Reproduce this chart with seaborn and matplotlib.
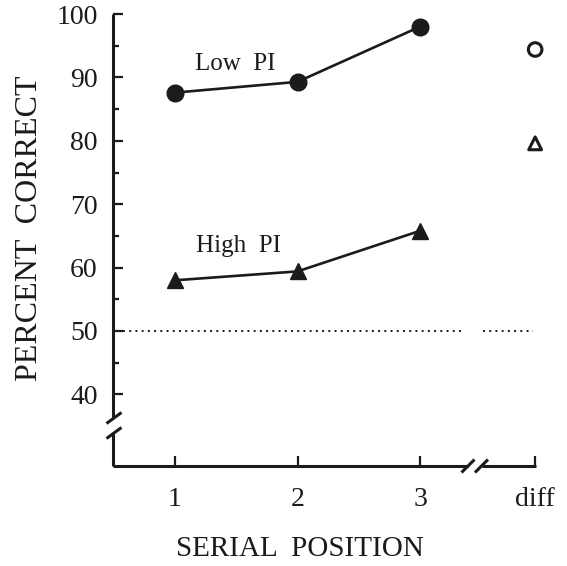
import matplotlib
matplotlib.use('Agg')
import matplotlib.pyplot as plt
import seaborn as sns
import pandas as pd

# ---- data ----
positions = [1, 2, 3]
low_pi = [87.6, 89.3, 98.0]
high_pi = [58.0, 59.4, 65.8]
diff_position = 3.94
diff_low = 94.4
diff_high = 79.6
x_tick_labels = ['1', '2', '3', 'diff']
y_major = [40, 50, 60, 70, 80, 90, 100]
y_minor = [45, 55, 65, 75, 85, 95]
chance = 50

sns.set_theme(style='ticks')
plt.rcParams['font.family'] = ['Liberation Serif', 'DejaVu Serif']
INK = '#1c1a1b'

W, H = 567, 566
fig = plt.figure(figsize=(W / 100, H / 100), dpi=100)
ax = fig.add_axes([113 / W, (H - 466) / H, (547 - 113) / W, (466 - 8) / H])

def px2x(px):
    return 1 + (px - 175) / 122.5

def px2y(py):
    return 50 - (py - 331) / 6.34

ax.set_xlim(px2x(113), px2x(547))
ax.set_ylim(px2y(466), px2y(8))

# series
sns.lineplot(x=positions, y=low_pi, ax=ax, color=INK, lw=1.9, marker='o',
             markersize=12, mec=INK, mew=1, legend=False)
sns.lineplot(x=positions, y=high_pi, ax=ax, color=INK, lw=1.9, marker='^',
             markersize=11.5, mec=INK, mew=1, legend=False)
sns.scatterplot(x=[diff_position], y=[diff_low], ax=ax, marker='o', s=95,
                facecolors='none', edgecolor=INK, linewidth=2.2)
sns.scatterplot(x=[diff_position], y=[diff_high], ax=ax, marker='^', s=85,
                facecolors='none', edgecolor=INK, linewidth=2.2)

# chance line
x0 = px2x(113)
ax.plot([x0 + 0.08, px2x(463)], [chance, chance], ls=(0, (1, 2.2)), lw=1.4, color=INK)
ax.plot([px2x(483), px2x(533)], [chance, chance], ls=(0, (1, 2.2)), lw=1.4, color=INK)

# axes lines with breaks
for s in ax.spines.values():
    s.set_visible(False)
alw = 2.2
kw = dict(color=INK, lw=alw, clip_on=False, solid_capstyle='butt')
ax.plot([x0, x0], [100, px2y(418)], **kw)
ax.plot([x0, x0], [px2y(433), px2y(466)], **kw)
for cy in (418, 433):
    ax.plot([px2x(106.5), px2x(121.5)], [px2y(cy + 5.5), px2y(cy - 5.5)], **kw)
yb = px2y(466)
ax.plot([x0, px2x(468)], [yb, yb], **kw)
ax.plot([px2x(481.5), diff_position + 0.008], [yb, yb], **kw)
for cx in (468, 481.5):
    ax.plot([px2x(cx - 6.5), px2x(cx + 6.5)], [px2y(466 + 6.5), px2y(466 - 6.5)], **kw)

# ticks
ax.set_yticks(y_major)
ax.set_yticks(y_minor, minor=True)
ax.set_yticklabels([str(v) for v in y_major])
ax.set_xticks(positions + [diff_position])
ax.set_xticklabels(x_tick_labels)
ax.tick_params(axis='y', which='major', direction='in', length=7.5, width=1.6,
               color=INK, labelsize=20, pad=11, labelcolor=INK)
ax.tick_params(axis='y', which='minor', direction='in', length=4.5, width=1.6, color=INK)
ax.tick_params(axis='x', which='major', direction='in', length=7.5, width=1.6,
               color=INK, labelsize=20, pad=15, labelcolor=INK)
ax.set_xlabel('')
ax.set_ylabel('')

# annotations
ax.text(px2x(235), px2y(64), 'Low  PI', ha='center', va='center', fontsize=18, color=INK)
ax.text(px2x(238), px2y(246), 'High  PI', ha='center', va='center', fontsize=18, color=INK)

fig.text(30 / W, 1 - 228 / H, 'PERCENT  CORRECT', rotation=90, ha='center',
         va='center', fontsize=23, color=INK)
fig.text(300 / W, 1 - 549 / H, 'SERIAL  POSITION', ha='center', va='center',
         fontsize=21, color=INK)

fig.savefig('out.png', dpi=100)
